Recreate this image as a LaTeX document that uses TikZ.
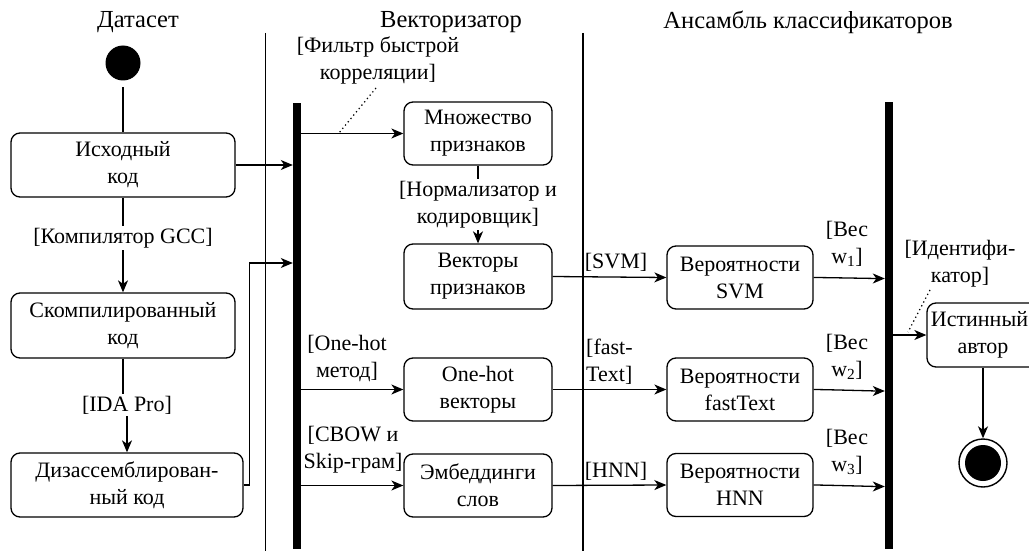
\documentclass[tikz,border=0pt]{standalone}
\usepackage{fontspec}
\setmainfont{Liberation Serif}
\usetikzlibrary{arrows.meta}
\begin{document}
\begin{tikzpicture}[x=1pt,y=-1pt,
  every node/.style={font=\fontsize{22}{27}\selectfont},
  act/.style={draw, line width=1.3pt, rounded corners=9pt, align=center, inner sep=0pt},
  bar/.style={fill=black, draw=none, inner sep=0pt, minimum width=8pt},
  lbl/.style={align=center, inner sep=1pt},
  wlbl/.style={align=center, inner sep=2pt, fill=white},
  hdr/.style={font=\fontsize{24.5}{29}\selectfont},
  lane/.style={line width=1.2pt},
  flow/.style={line width=1.3pt, -{Stealth[length=12pt,width=10pt,inset=3.5pt]}},
  plain/.style={line width=1.3pt},
  dots/.style={line width=1.2pt, dash pattern=on 1.3pt off 3pt}
]
\useasboundingbox (0,0) rectangle (1029,551);

% headers
\node[hdr] (h1) at (138,22) {Датасет};
\node[hdr] (h2) at (451,22) {Векторизатор};
\node[hdr] (h3) at (808,22) {Ансамбль классификаторов};

% swimlanes
\coordinate (l1t) at (265.5,33); \coordinate (l1b) at (265.5,551);
\coordinate (l2t) at (583,33); \coordinate (l2b) at (583,551);
\draw[lane] (l1t) -- (l1b);
\draw[lane] (l2t) -- (l2b);

% nodes
\node[circle, fill=black, inner sep=0pt, minimum size=35pt] (init) at (123,63) {};
\node[act, minimum width=224pt, minimum height=64pt] (src) at (123,165) {Исходный\\код};
\node[act, minimum width=224pt, minimum height=65pt] (comp) at (123,325.5) {Скомпилированный\\код};
\node[act, minimum width=232pt, minimum height=64pt] (dis) at (127,485) {Дизассемблирован-\\ный код};

\node[bar, minimum height=446pt] (bar1) at (297,326) {};
\node[bar, minimum height=447pt] (bar2) at (889,325.5) {};

\node[act, minimum width=148pt, minimum height=63pt] (feat) at (478,133.5) {Множество\\признаков};
\node[act, minimum width=148pt, minimum height=65pt] (vec) at (478,276.5) {Векторы\\признаков};
\node[act, minimum width=148pt, minimum height=63pt] (oh) at (478,389.5) {One-hot\\векторы};
\node[act, minimum width=148pt, minimum height=63pt] (emb) at (478,485.5) {Эмбеддинги\\слов};

\node[act, minimum width=146pt, minimum height=63pt] (psvm) at (740,277.5) {Вероятности\\SVM};
\node[act, minimum width=146pt, minimum height=63pt] (pft) at (740,389.5) {Вероятности\\fastText};
\node[act, minimum width=146pt, minimum height=63pt] (phnn) at (740,485) {Вероятности\\HNN};

\node[act, minimum width=112pt, minimum height=64pt] (true) at (983,335) {Истинный\hspace*{7pt}\\автор};
\node[circle, draw, line width=1.4pt, inner sep=0pt, minimum size=48pt] (final) at (983,463) {};
\node[circle, fill=black, inner sep=0pt, minimum size=36pt] (finalin) at (final.center) {};

% left lane edges
\draw[plain, shorten <=6.5pt] (init) -- (src);
\draw[flow] (src) -- node[wlbl, pos=0.43] {[Компилятор GCC]} (comp);
\node[wlbl] (ida) at (127,405) {[IDA Pro]};
\draw[plain] (comp.south) -- (comp.south |- ida.north);
\draw[flow] (ida.south -| dis.north) -- (dis.north);

\draw[flow] (src.east) -- (src.east -| bar1.west);
\coordinate (b1in) at (bar1.west |- 0,263);
\draw[flow] (dis.east) -- ++(6,0) |- (b1in);

% vectorizer lane
\draw[flow] (bar1.east |- feat.west) -- (feat.west);
\node[lbl] (flt) at (378,60) {[Фильтр быстрой\\корреляции]};
\coordinate (fltend) at (339,133);
\draw[dots] (376,88) -- (fltend);

\draw[flow] (feat) -- node[wlbl, pos=0.5] {[Нормализатор и\\кодировщик]} (vec);

\draw[flow] (bar1.east |- oh.west) -- (oh.west);
\node[lbl] (ohl) at (347,358) {[One-hot\\метод]};
\draw[flow] (bar1.east |- emb.west) -- (emb.west);
\node[lbl] (cbl) at (353,450) {[CBOW и\\Skip-грам]};

% to classifiers
\draw[flow] (vec.east) -- (psvm.west);
\node[lbl] (svml) at (616,262) {[SVM]};
\draw[flow] (oh.east) -- (pft.west);
\node[lbl, align=left, anchor=west] (ftl) at (585,362) {[fast-\\Text]};
\draw[flow] (emb.east) -- (phnn.west);
\node[lbl] (hnnl) at (616,471) {[HNN]};

% to join bar
\draw[flow] (psvm.east) to[out=0,in=180,looseness=0.3] (bar2.west |- 0,278.5);
\node[lbl] (w1) at (847,244) {[Вес\\w\textsubscript{1}]};
\draw[flow] (pft.east) to[out=0,in=180,looseness=0.3] (bar2.west |- 0,391);
\node[lbl] (w2) at (847,357) {[Вес\\w\textsubscript{2}]};
\draw[flow] (phnn.east) to[out=0,in=180,looseness=0.3] (bar2.west |- 0,486.5);
\node[lbl] (w3) at (847,452) {[Вес\\w\textsubscript{3}]};

% result
\draw[flow] (bar2.east |- true.west) -- (true.west);
\node[lbl] (idl) at (960,264) {[Идентифи-\\катор]};
\coordinate (idend) at (908,332);
\draw[dots] (930,290) -- (idend);
\draw[flow] (true) -- (final);
\end{tikzpicture}
\end{document}
